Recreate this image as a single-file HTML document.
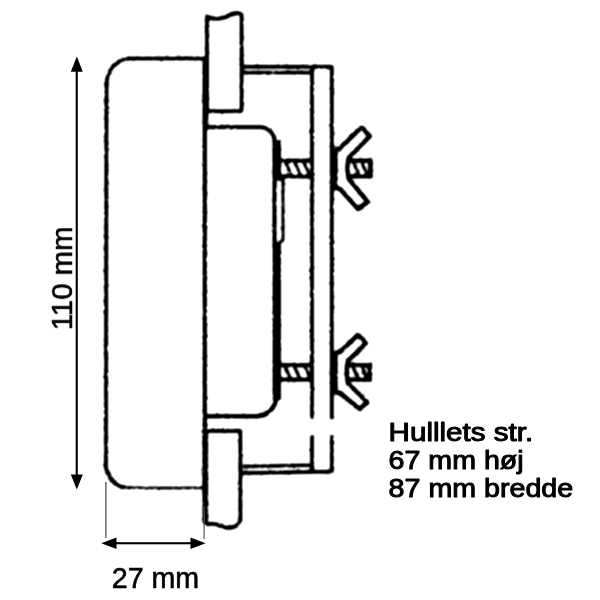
<!DOCTYPE html>
<html lang="da">
<head>
<meta charset="utf-8">
<title>Hullets str.</title>
<style>
html,body{margin:0;padding:0;background:#fff;}
body{width:600px;height:600px;overflow:hidden;position:relative;}
svg{position:absolute;left:0;top:0;display:block;}
.ln{fill:none;stroke:#000;stroke-linecap:butt;stroke-linejoin:round;}
.dim{font-family:"Liberation Sans",Arial,sans-serif;font-size:28.6px;fill:#000;stroke:#000;stroke-width:0.6px;}
.lbl{font-family:"Liberation Sans",Arial,sans-serif;font-weight:normal;font-size:25.5px;fill:#000;stroke:#000;stroke-width:1px;stroke-linejoin:round;}
</style>
</head>
<body>
<svg width="600" height="600" viewBox="0 0 600 600">
<rect width="600" height="600" fill="#fff"/>
<defs>
<filter id="rough" x="0" y="0" width="600" height="600" filterUnits="userSpaceOnUse" color-interpolation-filters="sRGB">
<feTurbulence type="fractalNoise" baseFrequency="0.33" numOctaves="2" seed="7" result="n"/>
<feDisplacementMap in="SourceGraphic" in2="n" scale="2.8" xChannelSelector="R" yChannelSelector="G" result="d"/>
<feGaussianBlur in="d" stdDeviation="0.8" result="b"/>
<feComponentTransfer in="b"><feFuncA type="linear" slope="1.5" intercept="-0.25"/></feComponentTransfer>
</filter>
</defs>
<g id="drawing" filter="url(#rough)">

<!-- outer housing -->
<g id="housing" class="ln">
<path d="M205 58.5 H130 A23.5 26.5 0 0 0 106.5 85 L105.9 467 C106.6 473.5 111.5 480.5 116 484 S124.5 487.5 131 487.5" stroke-width="4.1"/>
<path d="M129 487.4 Q165 488.2 205 487.8" stroke-width="3"/>
<path d="M204.8 57 V524" stroke-width="4.4"/>
<path d="M205.6 58 V128" stroke-width="5.6"/>
<path d="M205.4 430 V520" stroke-width="5.6"/>
</g>

<!-- wall panel sections -->
<g id="panel" class="ln" stroke-width="4">
<path d="M207 111.3 V16.5 Q213 19.5 220 18.6 Q227 17.5 232 14 Q238 11.6 241.6 14.5 V111.3 Z"/>
<path d="M205 431 H240.4 V518 Q240 524 234 527 Q228 529.5 221 526 Q213 522 206 525"/>
</g>

<!-- inner box -->
<g id="inner" class="ln" stroke-width="4.2">
<path d="M205 127.2 H259.5 A15 13.5 0 0 1 274.5 140.7 V245"/>
<path d="M205 416.2 H256 A20.5 20.5 0 0 0 276.5 396" stroke-width="4.6"/>
<path d="M278.8 139.8 V180" stroke-width="4.4"/>
<path d="M283 178 V240.5 L277.5 244" stroke-width="3.2"/>
<path d="M276.8 243 V400" stroke-width="8.4"/>
</g>

<!-- back plate and rails -->
<g id="plate" class="ln" stroke-width="4">
<path d="M243 66.7 H331.8 V419"/>
<path d="M243 72.7 H312" stroke-width="3.8"/>
<path d="M312 66.7 V419"/>
<path d="M312 435 V471"/>
<path d="M331.8 435 V471.6 L243 473"/>
<path d="M243 466.5 L312 465.2" stroke-width="3.8"/>
</g>

<!-- bolts -->
<g id="bolts" class="ln" stroke-width="4.2">
<path d="M281 160.6 H312 M281 176.3 H312"/>
<path d="M291.3 175 L285.3 162 M300.6 175 L294.4 162 M309.8 175 L303.6 162" stroke-width="3.2"/>
<path d="M348.5 160.6 H370 M370 176.3 H348.5"/>
<path d="M359.2 175 L353.2 162 M367.2 175 L361.4 162" stroke-width="3.2"/>
<path d="M370.4 158.5 V178.4" stroke-width="4.8"/>
<path d="M281 365.2 H312 M281 379.7 H312"/>
<path d="M290.6 378.5 L285 366.5 M300 378.5 L294.2 366.5 M310.4 378.5 L304.8 366.5" stroke-width="3.2"/>
<path d="M348 365.2 H369.5 M369.5 379.7 H348"/>
<path d="M358.4 378.5 L352.8 366.5 M367 378.5 L361.8 366.5" stroke-width="3.2"/>
<path d="M369.6 363.1 V381.8" stroke-width="4.8"/>
</g>

<!-- wing nuts -->
<g id="nuts" class="ln" stroke-width="4.6">
<path d="M334.6 150 V189.5" stroke-width="6.2"/>
<path d="M335 150 L339.5 148.5 L361.8 127.2 L370 136.2 L348.8 157.5 Q346 168 348.8 179 L368 202 L358 209 L340 189 L335 187.5"/>
<path d="M334.6 352 V393.5" stroke-width="6.2"/>
<path d="M335 353 L340.5 351.5 L358 334.8 L366 343.2 L348 361 Q345.4 372 348 383 L367.2 402.4 L359.4 409 L341 393.5 L335 392"/>
</g>

</g>

<!-- dimension arrows -->
<g id="dims" fill="#000" stroke="none">
<rect x="75.7" y="70" width="2.1" height="406"/>
<path d="M76.8 56.5 L82.8 71.8 H70.8 Z"/>
<path d="M76.8 489.5 L82.8 474.6 H70.8 Z"/>
<rect x="114" y="542.2" width="78" height="2.1"/>
<path d="M101.2 543.2 L116.5 537.4 V549 Z"/>
<path d="M205.6 543.2 L190.5 537.4 V549 Z"/>
<rect x="105.3" y="482" width="1.2" height="56" fill="#444"/>
<rect x="203.5" y="506" width="1.2" height="33" fill="#555"/>
</g>

<!-- labels -->
<g id="labels" opacity="0.999">
<text class="dim" x="111.8" y="587.8" textLength="87.4" lengthAdjust="spacingAndGlyphs">27 mm</text>
<text class="dim" transform="translate(72 330.2) rotate(-90)" textLength="103.6" lengthAdjust="spacingAndGlyphs">110 mm</text>
<text class="lbl" x="388.6" y="440.8" textLength="144.6" lengthAdjust="spacingAndGlyphs">Hulllets str.</text>
<text class="lbl" x="388.6" y="469.2" textLength="135" lengthAdjust="spacingAndGlyphs">67 mm høj</text>
<text class="lbl" x="388.6" y="496.8" textLength="184.6" lengthAdjust="spacingAndGlyphs">87 mm bredde</text>
</g>
</svg>
</body>
</html>
